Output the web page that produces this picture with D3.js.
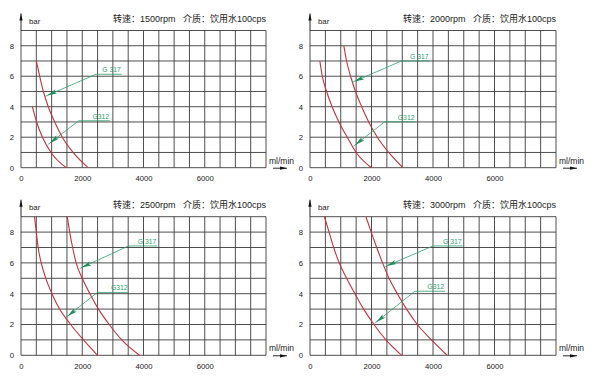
<!DOCTYPE html>
<html>
<head>
<meta charset="utf-8">
<script src="https://cdn.jsdelivr.net/npm/d3@7"></script>
<style>
  body { margin: 0; background: #fff; }
  text { font-family: "Liberation Sans", Arial, "Noto Sans CJK SC", sans-serif; }
</style>
</head>
<body>
<script>
// pump speed of each panel (rpm)
var speeds = [1500, 2000, 2500, 3000];
var xTicks = [0, 2000, 4000, 6000];
var yTicks = [0, 2, 4, 6, 8];

// G312 curves, [ml/min, bar]
var g312 = [
  [[370,4],[510,3],[700,2],[980,1],[1480,0]],
  [[320,7],[400,6],[540,5],[720,4],[940,3],[1210,2],[1500,1],[2000,0]],
  [[440,9],[500,8],[560,7],[660,6],[810,5],[1010,4],[1260,3],[1620,2],[2040,1],[2500,0]],
  [[470,9],[620,8],[770,7],[950,6],[1190,5],[1460,4],[1745,3],[2080,2],[2470,1],[2980,0]]
];

// G317 curves
var g317 = [
  [[500,7],[610,6],[730,5],[890,4],[1100,3],[1350,2],[1700,1],[2190,0]],
  [[1100,8],[1190,7],[1320,6],[1480,5],[1680,4],[1910,3],[2190,2],[2560,1],[3020,0]],
  [[1510,9],[1590,8],[1685,7],[1800,6],[2000,5],[2250,4],[2530,3],[2880,2],[3290,1],[3870,0]],
  [[1820,9],[1990,8],[2170,7],[2360,6],[2570,5],[2840,4],[3140,3],[3490,2],[3950,1],[4460,0]]
];

// callouts: underline from x0 to x1 at y, arrow to (tx, ty)
var g317Notes = [
  {x0:2450, x1:3290, y:6.13, tx:790, ty:4.68},
  {x0:2970, x1:3890, y:7.0, tx:1375, ty:5.6},
  {x0:3511, x1:4450, y:7.1, tx:1915, ty:5.64},
  {x0:4000, x1:4960, y:7.1, tx:2430, ty:5.75}
];
var g312Notes = [
  {x0:1886, x1:2908, y:3.08, tx:885, ty:1.53},
  {x0:2430, x1:3430, y:3.01, tx:1415, ty:1.41},
  {x0:2490, x1:3511, y:4.08, tx:1467, ty:2.45},
  {x0:3410, x1:4390, y:4.16, tx:2100, ty:2.07}
];

var svgWidth = 600, svgHeight = 384;

// panel layout
var cols = [{left: 21, width: 245}, {left: 310, width: 246}];
var rows = [{top: 30.5, height: 137.2}, {top: 216.7, height: 138.6}];

var red = "#c8323e";
var green = "#2f9f70";
var gridColor = "#3c3c3c";

var svg = d3.select("body")
  .append("svg")
  .attr("width", svgWidth)
  .attr("height", svgHeight);

var defs = svg.append("defs");
defs.append("marker")
  .attr("id", "head")
  .attr("markerUnits", "userSpaceOnUse")
  .attr("viewBox", "-1 -3 12 6")
  .attr("markerWidth", 12)
  .attr("markerHeight", 6)
  .attr("refX", 12)
  .attr("refY", 0)
  .attr("orient", "auto")
  .append("path")
  .attr("d", "M10,0 L0,-2.2 L2,0 L0,2.2 Z")
  .attr("fill", "#1f8f5c");

defs.append("marker")
  .attr("id", "axisHead")
  .attr("markerUnits", "userSpaceOnUse")
  .attr("viewBox", "0 -3 8 6")
  .attr("markerWidth", 8)
  .attr("markerHeight", 6)
  .attr("refX", 7)
  .attr("refY", 0)
  .attr("orient", "auto")
  .append("path")
  .attr("d", "M0,-1.6 L7,0 L0,1.6 Z")
  .attr("fill", "#111");

speeds.forEach(function(speed, i) {
  var col = cols[i % 2];
  var row = rows[Math.floor(i / 2)];
  var width = col.width, height = row.height;

  var g = svg.append("g")
    .attr("transform", `translate(${col.left}, ${row.top})`);

  var x = d3.scaleLinear().domain([0, 8000]).range([0, width]);
  var y = d3.scaleLinear().domain([0, 9]).range([height, 0]);

  // grid
  g.append("g").selectAll("line")
    .data(d3.range(0, 8001, 500))
    .enter().append("line")
    .attr("x1", d => x(d)).attr("x2", d => x(d))
    .attr("y1", 0).attr("y2", height)
    .attr("stroke", gridColor)
    .attr("stroke-width", 0.9);

  g.append("g").selectAll("line")
    .data(d3.range(0, 10))
    .enter().append("line")
    .attr("y1", d => y(d)).attr("y2", d => y(d))
    .attr("x1", 0).attr("x2", width)
    .attr("stroke", gridColor)
    .attr("stroke-width", 0.9);

  // axes labels
  var bottomAxis = d3.axisBottom(x).tickValues(xTicks).tickFormat(d3.format("d")).tickSize(0).tickPadding(8);
  var leftAxis = d3.axisLeft(y).tickValues(yTicks).tickSize(0).tickPadding(7);

  var xa = g.append("g")
    .attr("transform", `translate(0,${height})`)
    .call(bottomAxis);
  var ya = g.append("g").call(leftAxis);
  [xa, ya].forEach(function(a) {
    a.select(".domain").remove();
    a.selectAll("text")
      .attr("font-size", 7.7)
      .attr("font-family", '"Liberation Sans", Arial, sans-serif')
      .attr("fill", "#222");
  });

  // y arrow + label
  g.append("line")
    .attr("x1", 0).attr("x2", 0)
    .attr("y1", 0).attr("y2", -17)
    .attr("stroke", "#111")
    .attr("stroke-width", 0.9)
    .attr("marker-end", "url(#axisHead)");
  g.append("text")
    .attr("x", 8).attr("y", -6.5)
    .attr("font-size", 7.8)
    .attr("fill", "#222")
    .text("bar");

  // x arrow + label
  g.append("line")
    .attr("x1", width + 7).attr("x2", width + 21)
    .attr("y1", height + 0.5).attr("y2", height + 0.5)
    .attr("stroke", "#111")
    .attr("stroke-width", 0.9)
    .attr("marker-end", "url(#axisHead)");
  g.append("text")
    .attr("x", width + 3).attr("y", height - 4)
    .attr("font-size", 8.5)
    .attr("fill", "#222")
    .text("ml/min");

  // title
  g.append("text")
    .attr("x", width).attr("y", -8.5)
    .attr("text-anchor", "end")
    .attr("font-size", 9)
    .attr("fill", "#222")
    .attr("xml:space", "preserve")
    .text("转速：" + speed + "rpm   介质：饮用水100cps");

  // curves
  var line = d3.line()
    .x(d => x(d[0]))
    .y(d => y(d[1]))
    .curve(d3.curveMonotoneX);

  [g312[i], g317[i]].forEach(function(pts) {
    g.append("path")
      .datum(pts)
      .attr("d", line)
      .attr("fill", "none")
      .attr("stroke", red)
      .attr("stroke-width", 1.1);
  });

  // callouts
  [[g317Notes[i], "G 317"], [g312Notes[i], "G312"]].forEach(function(n) {
    var note = n[0];
    g.append("polyline")
      .attr("points", [[x(note.x1), y(note.y)], [x(note.x0), y(note.y)], [x(note.tx), y(note.ty)]].join(" "))
      .attr("fill", "none")
      .attr("stroke", green)
      .attr("stroke-width", 0.8)
      .attr("marker-end", "url(#head)");
    g.append("text")
      .attr("x", x(note.x1) - 1)
      .attr("y", y(note.y) - 2)
      .attr("text-anchor", "end")
      .attr("font-size", 6.8)
      .attr("fill", green)
      .text(n[1]);
  });
});
</script>
</body>
</html>
